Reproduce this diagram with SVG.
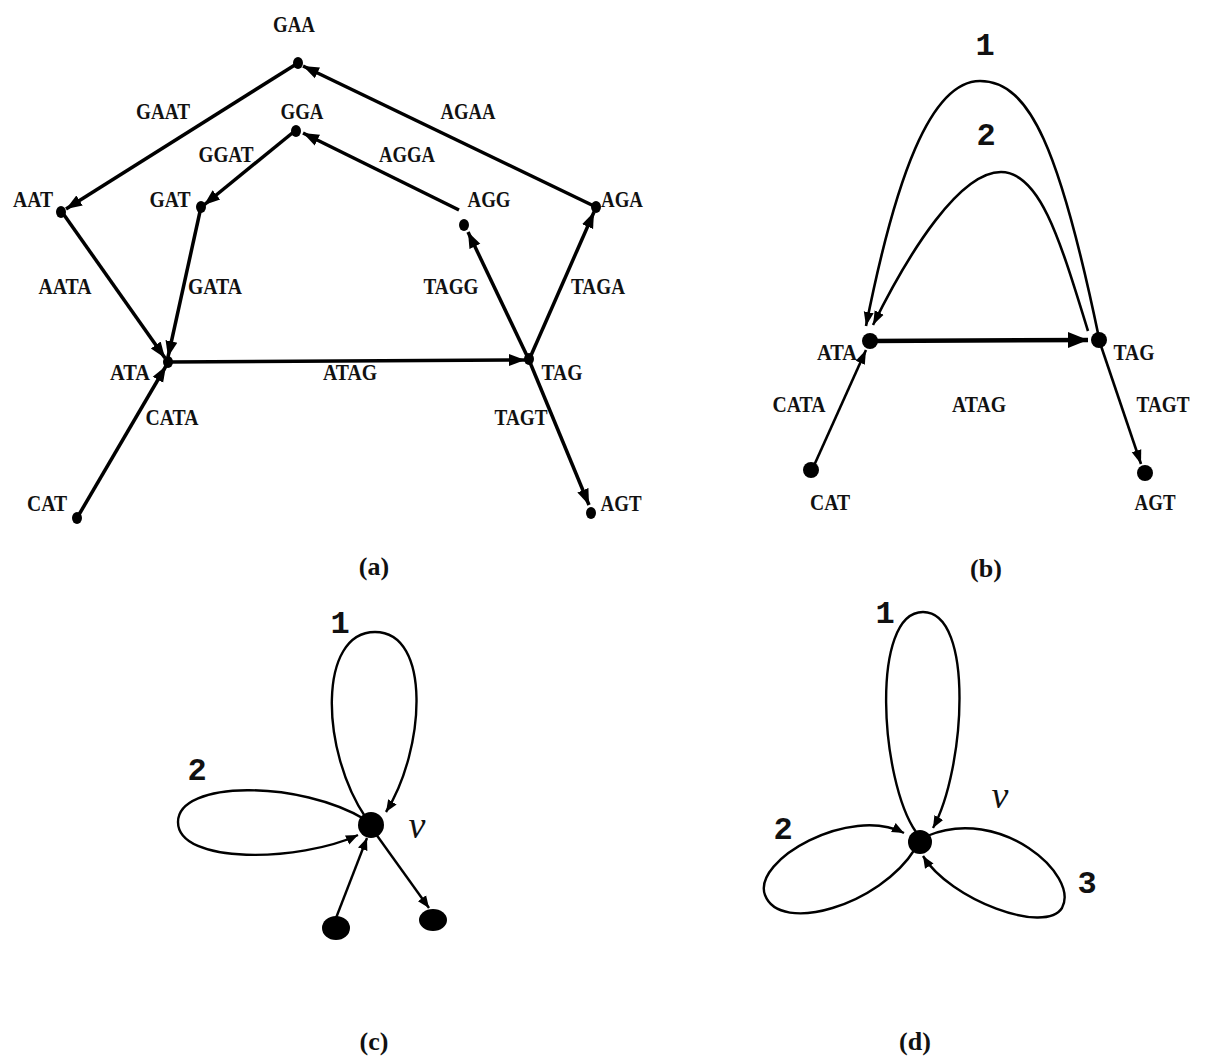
<svg xmlns="http://www.w3.org/2000/svg" width="1212" height="1064" viewBox="0 0 1212 1064">
<style>
.lb{font-family:"Liberation Serif",serif;font-weight:bold;font-size:23px;text-anchor:middle;fill:#111}
.cap{font-family:"Liberation Serif",serif;font-weight:bold;font-size:26px;text-anchor:middle;fill:#111}
.num{font-family:"Liberation Mono",monospace;font-weight:bold;font-size:32px;text-anchor:middle;fill:#111}
.nu{font-family:"Liberation Serif",serif;font-style:italic;font-size:38px;text-anchor:middle;fill:#111}
.ea{stroke:#000;stroke-width:3.5;fill:none;marker-end:url(#arrA)}
.eb{stroke:#000;stroke-width:2.6;fill:none;marker-end:url(#arrB)}
.ec{stroke:#000;stroke-width:2.4;fill:none;marker-end:url(#arrC)}
.nd{fill:#000}
</style>
<defs>
<marker id="arrA" markerUnits="userSpaceOnUse" markerWidth="18" markerHeight="14" refX="16" refY="7" orient="auto"><path d="M0,1 L16,7 L0,13 z" fill="#000"/></marker>
<marker id="arrB" markerUnits="userSpaceOnUse" markerWidth="16" markerHeight="12" refX="14" refY="6" orient="auto"><path d="M0,1 L14,6 L0,11 z" fill="#000"/></marker>
<marker id="arrBig" markerUnits="userSpaceOnUse" markerWidth="22" markerHeight="18" refX="20" refY="9" orient="auto"><path d="M0,1 L20,9 L0,17 z" fill="#000"/></marker>
<marker id="arrC" markerUnits="userSpaceOnUse" markerWidth="14" markerHeight="12" refX="12" refY="6" orient="auto"><path d="M0,1 L12,6 L0,11 z" fill="#000"/></marker>
</defs>
<rect width="1212" height="1064" fill="#fff"/>

<g id="connectors">
<!-- panel a -->
<line class="ea" x1="298" y1="63" x2="66" y2="209"/>
<line class="ea" x1="296" y1="130" x2="204" y2="205"/>
<line class="ea" x1="459" y1="210" x2="303" y2="133"/>
<line class="ea" x1="596" y1="207" x2="303" y2="66"/>
<line class="ea" x1="62" y1="212" x2="165" y2="358"/>
<line class="ea" x1="201" y1="207" x2="168" y2="357"/>
<line class="ea" x1="77" y1="518" x2="166" y2="366"/>
<line class="ea" x1="168" y1="362" x2="525" y2="360"/>
<line class="ea" x1="529" y1="360" x2="468" y2="232"/>
<line class="ea" x1="529" y1="360" x2="594" y2="212"/>
<line class="ea" x1="529" y1="360" x2="589" y2="505"/>
<!-- panel b -->
<path class="eb" d="M1099,338 C1060,150 1030,81 980,81 C930,81 895,180 866,326"/>
<path class="eb" d="M1088,331 C1060,240 1040,172 1001,172 C960,172 910,250 873,325"/>
<line x1="870" y1="341" x2="1088" y2="340" stroke="#000" stroke-width="4.5" marker-end="url(#arrBig)"/>
<line class="eb" x1="812" y1="470" x2="866" y2="350"/>
<line class="eb" x1="1099" y1="340" x2="1141" y2="464"/>
<!-- panel c -->
<path class="ec" d="M366,818 C320,750 318,632 375,632 C432,632 425,750 386,812"/>
<path class="ec" d="M366,820 C300,780 178,780 178,822 C178,865 300,862 358,835"/>
<line class="ec" x1="336" y1="918" x2="367" y2="838"/>
<line class="ec" x1="373" y1="830" x2="429" y2="908"/>
<!-- panel d -->
<path class="ec" d="M916,832 C880,780 870,612 923,612 C975,612 965,770 933,828"/>
<path class="ec" d="M915,849 C880,905 780,935 765,895 C752,860 850,805 904,833"/>
<path class="ec" d="M927,836 C1000,805 1080,875 1062,908 C1045,935 950,900 923,856"/>
</g>

<!-- panel a nodes -->
<g id="a-GAA"><ellipse class="nd" cx="298" cy="63" rx="5" ry="6"/><text class="lb" x="294" y="32" textLength="42" lengthAdjust="spacingAndGlyphs">GAA</text></g>
<g id="a-GGA"><ellipse class="nd" cx="296" cy="131" rx="5" ry="6"/><text class="lb" x="302" y="119" textLength="43" lengthAdjust="spacingAndGlyphs">GGA</text></g>
<g id="a-AAT"><ellipse class="nd" cx="61" cy="212" rx="5" ry="6"/><text class="lb" x="33" y="207" textLength="40" lengthAdjust="spacingAndGlyphs">AAT</text></g>
<g id="a-GAT"><ellipse class="nd" cx="201" cy="207" rx="5" ry="6"/><text class="lb" x="170" y="207" textLength="41" lengthAdjust="spacingAndGlyphs">GAT</text></g>
<g id="a-AGG"><ellipse class="nd" cx="464" cy="225" rx="5" ry="6"/><text class="lb" x="489" y="207" textLength="43" lengthAdjust="spacingAndGlyphs">AGG</text></g>
<g id="a-AGA"><ellipse class="nd" cx="596" cy="207" rx="5" ry="6"/><text class="lb" x="622" y="207" textLength="42" lengthAdjust="spacingAndGlyphs">AGA</text></g>
<g id="a-ATA"><ellipse class="nd" cx="168" cy="362" rx="5" ry="6"/><text class="lb" x="130" y="380" textLength="40" lengthAdjust="spacingAndGlyphs">ATA</text></g>
<g id="a-TAG"><ellipse class="nd" cx="529" cy="359" rx="5" ry="6"/><text class="lb" x="562" y="380" textLength="41" lengthAdjust="spacingAndGlyphs">TAG</text></g>
<g id="a-CAT"><ellipse class="nd" cx="77" cy="518" rx="5" ry="6"/><text class="lb" x="47" y="511" textLength="40" lengthAdjust="spacingAndGlyphs">CAT</text></g>
<g id="a-AGT"><ellipse class="nd" cx="591" cy="513" rx="5" ry="6"/><text class="lb" x="621" y="511" textLength="41" lengthAdjust="spacingAndGlyphs">AGT</text></g>
<g id="a-edge-labels">
<text class="lb" x="163" y="119" textLength="54" lengthAdjust="spacingAndGlyphs">GAAT</text>
<text class="lb" x="468" y="119" textLength="55" lengthAdjust="spacingAndGlyphs">AGAA</text>
<text class="lb" x="226" y="162" textLength="55" lengthAdjust="spacingAndGlyphs">GGAT</text>
<text class="lb" x="407" y="162" textLength="56" lengthAdjust="spacingAndGlyphs">AGGA</text>
<text class="lb" x="65" y="294" textLength="53" lengthAdjust="spacingAndGlyphs">AATA</text>
<text class="lb" x="215" y="294" textLength="54" lengthAdjust="spacingAndGlyphs">GATA</text>
<text class="lb" x="451" y="294" textLength="55" lengthAdjust="spacingAndGlyphs">TAGG</text>
<text class="lb" x="598" y="294" textLength="54" lengthAdjust="spacingAndGlyphs">TAGA</text>
<text class="lb" x="350" y="380" textLength="54" lengthAdjust="spacingAndGlyphs">ATAG</text>
<text class="lb" x="172" y="425" textLength="53" lengthAdjust="spacingAndGlyphs">CATA</text>
<text class="lb" x="521" y="425" textLength="53" lengthAdjust="spacingAndGlyphs">TAGT</text>
<text class="cap" x="374" y="575">(a)</text>
</g>

<!-- panel b nodes -->
<g id="b-ATA"><circle class="nd" cx="870" cy="341" r="8"/><text class="lb" x="837" y="360" textLength="40" lengthAdjust="spacingAndGlyphs">ATA</text></g>
<g id="b-TAG"><circle class="nd" cx="1099" cy="340" r="8"/><text class="lb" x="1134" y="360" textLength="41" lengthAdjust="spacingAndGlyphs">TAG</text></g>
<g id="b-CAT"><circle class="nd" cx="811" cy="470" r="8"/><text class="lb" x="830" y="510" textLength="40" lengthAdjust="spacingAndGlyphs">CAT</text></g>
<g id="b-AGT"><circle class="nd" cx="1145" cy="473" r="8"/><text class="lb" x="1155" y="510" textLength="41" lengthAdjust="spacingAndGlyphs">AGT</text></g>
<g id="b-labels">
<text class="num" x="985" y="55">1</text>
<text class="num" x="986" y="145">2</text>
<text class="lb" x="799" y="412" textLength="53" lengthAdjust="spacingAndGlyphs">CATA</text>
<text class="lb" x="979" y="412" textLength="54" lengthAdjust="spacingAndGlyphs">ATAG</text>
<text class="lb" x="1163" y="412" textLength="53" lengthAdjust="spacingAndGlyphs">TAGT</text>
<text class="cap" x="986" y="577">(b)</text>
</g>

<!-- panel c nodes -->
<g id="c-v"><circle class="nd" cx="371" cy="825" r="13"/><text class="nu" x="417" y="838">v</text></g>
<g id="c-in"><ellipse class="nd" cx="336" cy="928" rx="14" ry="12"/></g>
<g id="c-out"><ellipse class="nd" cx="433" cy="920" rx="14" ry="11"/></g>
<g id="c-labels">
<text class="num" x="340" y="633">1</text>
<text class="num" x="197" y="780">2</text>
<text class="cap" x="374" y="1050">(c)</text>
</g>

<!-- panel d nodes -->
<g id="d-v"><circle class="nd" cx="920" cy="842" r="12"/><text class="nu" x="1000" y="808">v</text></g>
<g id="d-labels">
<text class="num" x="885" y="623">1</text>
<text class="num" x="783" y="839">2</text>
<text class="num" x="1087" y="893">3</text>
<text class="cap" x="915" y="1050">(d)</text>
</g>
</svg>
